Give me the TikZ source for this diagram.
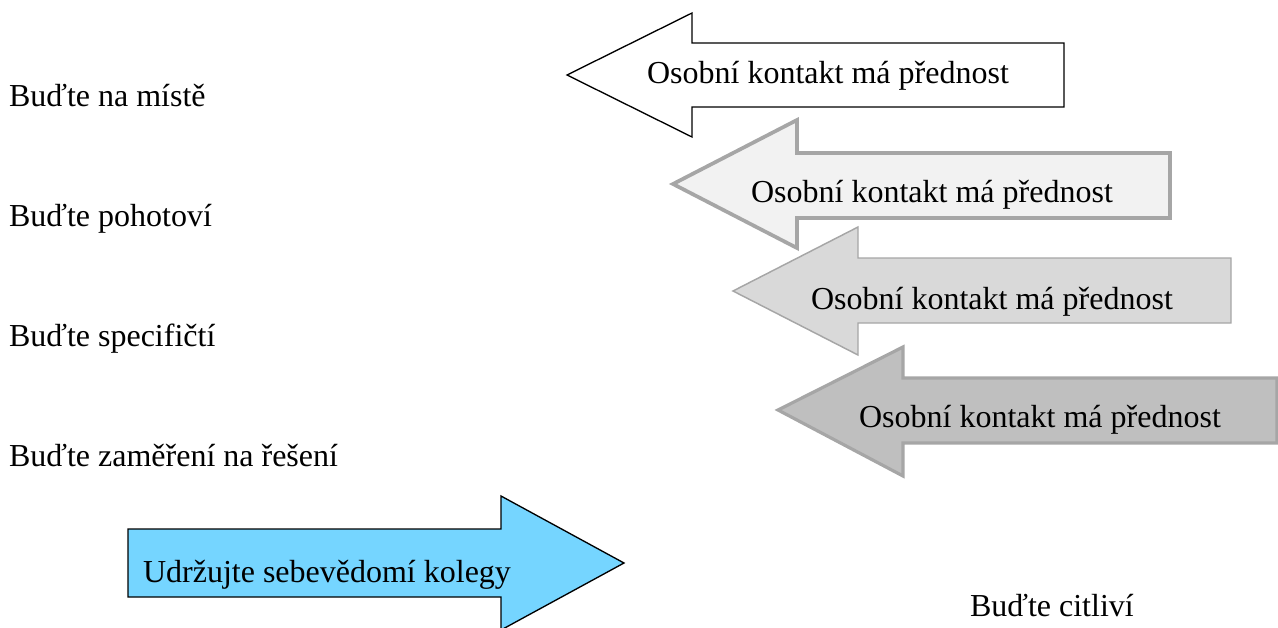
\documentclass[tikz,border=0pt]{standalone}
\usepackage{fontspec}
\setmainfont{Liberation Serif}
\definecolor{graylineA}{HTML}{A6A6A6}
\definecolor{fillB}{HTML}{F2F2F2}
\definecolor{fillC}{HTML}{D9D9D9}
\definecolor{fillD}{HTML}{BFBFBF}
\definecolor{fillBlue}{RGB}{117,213,255}
\begin{document}
\begin{tikzpicture}[x=0.75pt,y=-0.75pt,
  lbl/.style={inner sep=0pt,outer sep=0pt,font=\fontsize{24}{28}\selectfont,text=black},
  arrowA/.style={draw=black,fill=white,line width=1pt,line join=miter},
  arrowB/.style={draw=graylineA,fill=fillB,line width=2.8pt,line join=miter},
  arrowC/.style={draw=graylineA,fill=fillC,line width=1.1pt,line join=miter},
  arrowD/.style={draw=graylineA,fill=fillD,line width=2.4pt,line join=miter},
  arrowE/.style={draw=black,fill=fillBlue,line width=1pt,line join=miter}]
\useasboundingbox (0,0) rectangle (1278,628);

% left-pointing arrows
\path[arrowA] (567,75) -- (692,13) -- (692,43) -- (1064,43) -- (1064,107) -- (692,107) -- (692,137) -- cycle;
\path[arrowB] (673,184) -- (797,120) -- (797,153) -- (1170,153) -- (1170,218) -- (797,218) -- (797,248) -- cycle;
\path[arrowC] (733,291) -- (858,227) -- (858,258) -- (1231,258) -- (1231,323) -- (858,323) -- (858,355) -- cycle;
\path[arrowD] (778,410) -- (903,347) -- (903,378) -- (1277,378) -- (1277,443) -- (903,443) -- (903,476) -- cycle;
% right-pointing arrow
\path[arrowE] (128,529) -- (501,529) -- (501,496) -- (624,563) -- (501,630) -- (501,597) -- (128,597) -- cycle;

% arrow labels
\node[lbl,anchor=base] (t1) at (828,83) {Osobní kontakt má přednost};
\node[lbl,anchor=base] (t2) at (932,202) {Osobní kontakt má přednost};
\node[lbl,anchor=base] (t3) at (992,309) {Osobní kontakt má přednost};
\node[lbl,anchor=base] (t4) at (1040,427) {Osobní kontakt má přednost};
\node[lbl,anchor=base] (t5) at (327,582) {Udržujte sebevědomí kolegy};

% free labels
\node[lbl,anchor=base west] (l1) at (9,106) {Buďte na místě};
\node[lbl,anchor=base west] (l2) at (9,226) {Buďte pohotoví};
\node[lbl,anchor=base west] (l3) at (9,346) {Buďte specifičtí};
\node[lbl,anchor=base west] (l4) at (9,466) {Buďte zaměření na řešení};
\node[lbl,anchor=base west] (l5) at (970,616) {Buďte citliví};
\end{tikzpicture}
\end{document}
